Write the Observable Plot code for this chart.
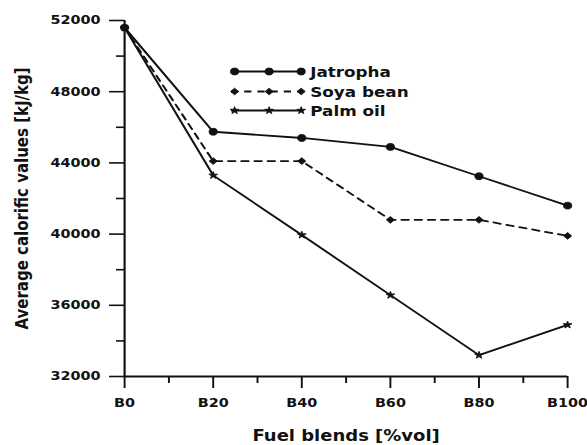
<!DOCTYPE html>
<html>
<head>
<meta charset="utf-8">
<script src="https://cdn.jsdelivr.net/npm/d3@7"></script>
<script src="https://cdn.jsdelivr.net/npm/@observablehq/plot@0.6"></script>
<style>
  html, body { margin: 0; padding: 0; background: #fff; }
  #chart { width: 587px; height: 445px; overflow: hidden; }
  svg { display: block; }
</style>
</head>
<body>
<div id="chart"></div>
<script>
// ---- data ----
const blends = ["B0", "B20", "B40", "B60", "B80", "B100"];
const blendPct = [0, 20, 40, 60, 80, 100];
const minorX = [10, 30, 50, 70, 90];
const yTicks = [32000, 36000, 40000, 44000, 48000, 52000];
const yMinor = [34000, 38000, 42000, 46000, 50000];
const seriesNames = ["Jatropha", "Soya bean", "Palm oil"];
const jatropha = [51600, 45750, 45400, 44900, 43250, 41600];
const soyaBean = [51600, 44100, 44100, 40800, 40800, 39900];
const palmOil = [51600, 43300, 39950, 36570, 33200, 34900];
const yLabel = "Average calorific values [kJ/kg]";
const xLabel = "Fuel blends [%vol]";

// ---- build ----
const SX = 1.2; // horizontal stretch of the reference picture
const W = 587 / SX, H = 445;
const rows = (name, vals) => vals.map((v, i) => ({series: name, x: blendPct[i], y: v}));
const jat = rows(seriesNames[0], jatropha);
const soy = rows(seriesNames[1], soyaBean);
const pal = rows(seriesNames[2], palmOil);
const ink = "#111";
const styles = [
  {data: jat, dash: null, symbol: "circle", r: 3.4},
  {data: soy, dash: "6,5", symbol: "diamond2", r: 3.0},
  {data: pal, dash: null, symbol: "star", r: 2.3}
];

const plot = Plot.plot({
  width: W,
  height: H,
  marginLeft: 124 / SX,
  marginRight: 20 / SX,
  marginTop: 20,
  marginBottom: 69,
  style: {fontFamily: "DejaVu Sans", fontWeight: "bold", color: ink, background: "#fff", overflow: "visible"},
  x: {domain: [0, 100]},
  y: {domain: [32000, 52000]},
  marks: [
    Plot.axisY(yTicks, {tickSize: 12.5, tickPadding: 7.5, tickFormat: d => String(d), fontSize: 12, strokeWidth: 1.6, label: null}),
    Plot.axisY(yMinor, {tickSize: 6.7, tickFormat: () => "", strokeWidth: 1.6, label: null}),
    Plot.axisX(blendPct, {tickSize: 12, tickPadding: 10, tickFormat: d => blends[blendPct.indexOf(d)], fontSize: 12, strokeWidth: 1.6, label: null}),
    Plot.axisX(minorX, {tickSize: 7, tickFormat: () => "", strokeWidth: 1.6, label: null}),
    Plot.ruleX([0], {stroke: ink, strokeWidth: 1.8}),
    Plot.ruleY([32000], {stroke: ink, strokeWidth: 1.8}),
    ...styles.map(s => Plot.line(s.data, {x: "x", y: "y", stroke: ink, strokeWidth: 1.8, strokeDasharray: s.dash || undefined})),
    ...styles.map(s => Plot.dot(s.data, {x: "x", y: "y", symbol: s.symbol, r: s.r, fill: ink, stroke: ink, strokeWidth: 0.8})),
    Plot.text([yLabel], {frameAnchor: "left", textAnchor: "middle", dx: -85, rotate: -90, fontSize: 15, fontWeight: "bold", fill: ink}),
    Plot.text([xLabel], {frameAnchor: "bottom", textAnchor: "middle", dy: 64, fontSize: 15, fontWeight: "bold", fill: ink})
  ]
});

// stretch horizontally like the reference picture
plot.setAttribute("width", 587);
plot.setAttribute("height", 445);
plot.setAttribute("viewBox", `0 0 ${W} ${H}`);
plot.setAttribute("preserveAspectRatio", "none");

// legend (inside the frame, top middle)
const svg = d3.select(plot);
const lg = svg.append("g").attr("font-family", "DejaVu Sans").attr("font-weight", "bold")
  .attr("font-size", 14).attr("fill", ink).attr("text-anchor", "start");
const legendY = [71.5, 91.5, 110.5];
const symMap = {circle: d3.symbolCircle, diamond2: d3.symbolDiamond2, star: d3.symbolStar};
styles.forEach((s, i) => {
  const y = legendY[i];
  const x0 = 192.5, x1 = 251;
  lg.append("line").attr("x1", x0).attr("x2", x1).attr("y1", y).attr("y2", y)
    .attr("stroke", ink).attr("stroke-width", 1.8).attr("stroke-dasharray", s.dash);
  [195.5, 224.3, 251].forEach(mx => {
    lg.append("path")
      .attr("d", d3.symbol(symMap[s.symbol], Math.PI * s.r * s.r)())
      .attr("transform", `translate(${mx},${y})`)
      .attr("fill", ink).attr("stroke", ink).attr("stroke-width", 0.8);
  });
  lg.append("text").attr("x", 258.5).attr("y", y).attr("dy", "0.36em").text(seriesNames[i]);
});

document.getElementById("chart").appendChild(plot);
</script>
</body>
</html>
